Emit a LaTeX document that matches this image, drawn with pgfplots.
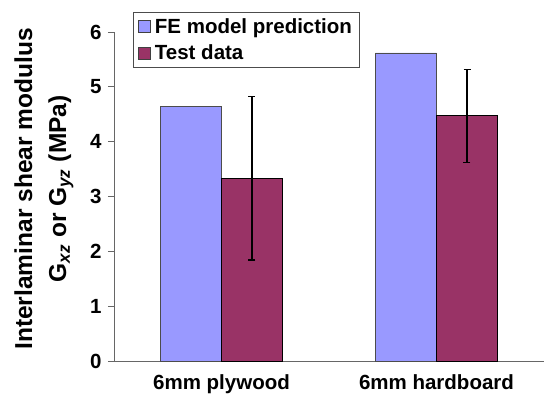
\documentclass[border=0pt]{standalone}
\usepackage{pgfplots}
\pgfplotsset{compat=1.18}
\usepackage{fontspec}
\setmainfont{Liberation Sans}
\definecolor{feblue}{HTML}{9999FF}
\definecolor{testred}{HTML}{993366}
\begin{document}
\begin{tikzpicture}
\begin{axis}[
  scale only axis,
  width=430pt, height=329pt,
  ybar=0pt, bar width=61pt,
  xmin=-0.5, xmax=1.5,
  ymin=0, ymax=6,
  ytick={0,1,2,3,4,5,6},
  xtick={0,1},
  xticklabels={6mm plywood,6mm hardboard},
  major x tick style={draw=none},
  extra x ticks={-0.5,0.5,1.5},
  extra x tick labels={},
  extra x tick style={major tick length=6pt, tick style={draw=black!60, line width=0.8pt}},
  axis x line*=bottom, axis y line*=left,
  axis line style={draw=black!60, line width=0.8pt, -},
  tick align=outside,
  major tick length=6pt,
  tick style={draw=black!60, line width=0.8pt},
  /pgf/number format/assume math mode=true,
  ticklabel style={font=\fontsize{20.5}{24}\selectfont\bfseries},
  xticklabel style={yshift=-4pt},
  yticklabel style={xshift=-3pt},
  ylabel={Interlaminar shear modulus\\G\textsubscript{\itshape xz} or G\textsubscript{\itshape yz} (MPa)},
  ylabel style={at={(axis description cs:-0.163,0.523)}, anchor=center, rotate=0, align=center, font=\fontsize{24.5}{34}\selectfont\bfseries},
  legend style={at={(0.044,1.061)}, anchor=north west, draw=black!70, line width=0.8pt, font=\fontsize{20.5}{24}\selectfont\bfseries, inner xsep=5pt, inner ysep=4pt, row sep=6pt,
    /tikz/every odd column/.append style={column sep=2pt}},
  legend cell align=left,
  legend image code/.code={\draw[#1, draw=black!75, line width=0.6pt] (0pt,-6pt) rectangle (12pt,6pt);},
  clip=false,
]
\addplot[fill=feblue, draw=black!70, line width=0.6pt] coordinates {(0,4.65) (1,5.62)};
\addplot[fill=testred, draw=black, line width=0.8pt,
  error bars/.cd, y dir=both, y explicit,
  error bar style={line width=1.5pt, black},
  error mark options={rotate=90, mark size=3.5pt, line width=1.5pt, black}]
  coordinates {(0,3.33) +- (0,1.49) (1,4.47) +- (0,0.85)};
\legend{FE model prediction, Test data}
\end{axis}
\pgfresetboundingbox
\path (current axis.south west) ++(-114pt,-37pt) rectangle ++(544pt,398pt);
\end{tikzpicture}
\end{document}
